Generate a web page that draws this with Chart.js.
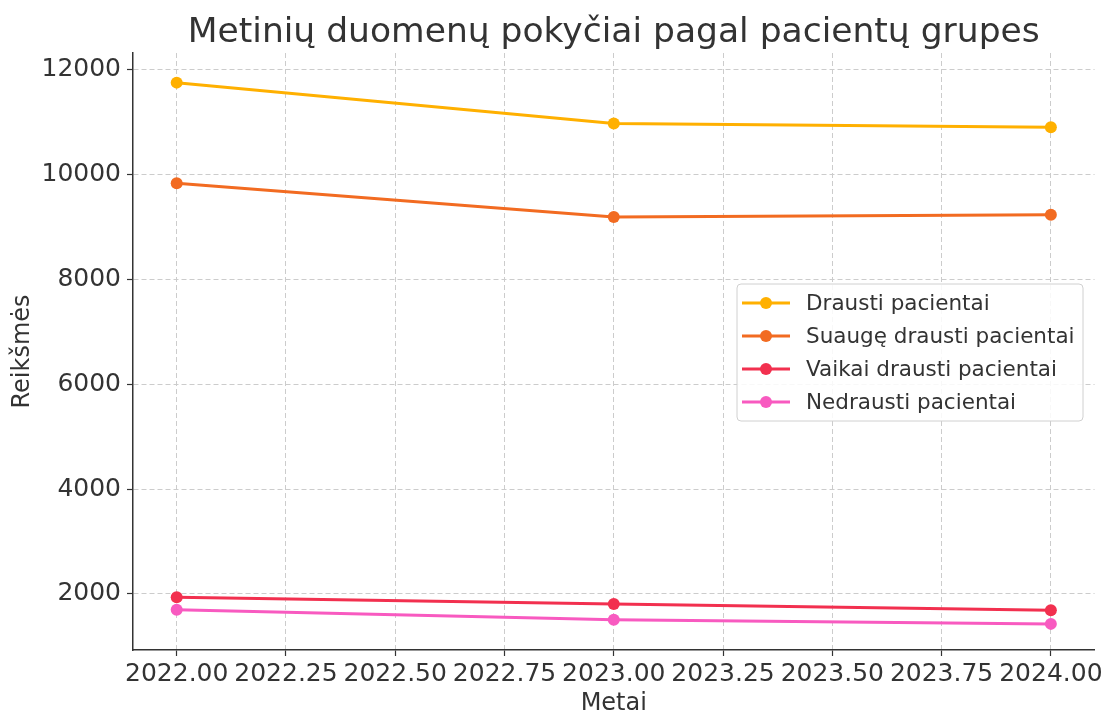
<!DOCTYPE html>
<html>
<head>
<meta charset="utf-8">
<script src="https://cdn.jsdelivr.net/npm/chart.js@4"></script>
<style>
  html, body { margin: 0; padding: 0; background: #fff; }
  #wrap { width: 1106px; height: 715px; }
</style>
</head>
<body>
<div id="wrap"><canvas id="lineChart" width="1106" height="715"></canvas></div>
<script>
const years = [2022, 2023, 2024];
const drausti = [11750, 10970, 10900];
const suauge = [9830, 9190, 9230];
const vaikai = [1940, 1810, 1690];
const nedrausti = [1700, 1510, 1430];
const xTicks = [2022, 2022.25, 2022.5, 2022.75, 2023, 2023.25, 2023.5, 2023.75, 2024];
const yTicks = [2000, 4000, 6000, 8000, 10000, 12000];
const chartTitle = 'Metinių duomenų pokyčiai pagal pacientų grupes';

const textColor = '#333333';
const gridColor = '#cccccc';
const font = 'DejaVu Sans';

const series = [
    { label: 'Drausti pacientai', values: drausti, color: '#ffb000' },
    { label: 'Suaugę drausti pacientai', values: suauge, color: '#f26b21' },
    { label: 'Vaikai drausti pacientai', values: vaikai, color: '#f2304f' },
    { label: 'Nedrausti pacientai', values: nedrausti, color: '#f85ac0' }
];

// title centred over the plot area and legend inside it, like the original
const decorations = {
    id: 'decorations',
    afterDraw(chart) {
        const ctx = chart.ctx;
        const area = chart.chartArea;
        ctx.save();
        ctx.fillStyle = textColor;
        ctx.font = '34.5px ' + font;
        ctx.textAlign = 'center';
        ctx.textBaseline = 'alphabetic';
        ctx.fillText(chartTitle, (area.left + area.right) / 2, 42);

        const x = 737, y = 284, w = 346, h = 137;
        ctx.beginPath();
        ctx.roundRect(x, y, w, h, 4);
        ctx.fillStyle = 'rgba(255,255,255,0.85)';
        ctx.fill();
        ctx.strokeStyle = '#d0d0d0';
        ctx.lineWidth = 1;
        ctx.stroke();
        ctx.font = '21.5px ' + font;
        ctx.textAlign = 'left';
        ctx.textBaseline = 'middle';
        chart.data.datasets.forEach((ds, i) => {
            const cy = y + 19 + i * 33;
            ctx.strokeStyle = ds.borderColor;
            ctx.lineWidth = 3;
            ctx.beginPath();
            ctx.moveTo(x + 5, cy);
            ctx.lineTo(x + 53, cy);
            ctx.stroke();
            ctx.fillStyle = ds.borderColor;
            ctx.beginPath();
            ctx.arc(x + 29, cy, 6, 0, Math.PI * 2);
            ctx.fill();
            ctx.fillStyle = textColor;
            ctx.fillText(ds.label, x + 69, cy + 1);
        });
        ctx.restore();
    }
};

new Chart(document.getElementById('lineChart').getContext('2d'), {
    type: 'line',
    data: {
        datasets: series.map(s => ({
            label: s.label,
            data: years.map((yr, i) => ({ x: yr, y: s.values[i] })),
            borderColor: s.color,
            backgroundColor: s.color,
            borderWidth: 3,
            pointRadius: 6,
            pointHoverRadius: 6,
            pointBorderWidth: 0,
            tension: 0
        }))
    },
    options: {
        responsive: false,
        animation: false,
        layout: { padding: { left: 8, right: 10, top: 53, bottom: 0 } },
        plugins: {
            legend: { display: false },
            tooltip: { enabled: false },
            title: { display: false }
        },
        scales: {
            x: {
                type: 'linear',
                min: 2021.9,
                max: 2024.1,
                afterBuildTicks: scale => { scale.ticks = xTicks.map(v => ({ value: v })); },
                afterFit: scale => { scale.height = 65; },
                ticks: {
                    color: textColor,
                    font: { family: font, size: 25 },
                    maxRotation: 0,
                    autoSkip: false,
                    padding: 3,
                    callback: v => Number(v).toFixed(2)
                },
                grid: { color: gridColor, tickColor: '#333', tickLength: 6, tickWidth: 1.2 },
                border: { display: true, color: '#333', width: 1.5, dash: [5, 3] },
                title: {
                    display: true,
                    text: 'Metai',
                    color: textColor,
                    font: { family: font, size: 24 },
                    padding: { top: 0, bottom: -3 }
                }
            },
            y: {
                min: 932,
                max: 12315,
                afterBuildTicks: scale => { scale.ticks = yTicks.map(v => ({ value: v })); },
                afterFit: scale => { scale.width = 125; },
                ticks: {
                    color: textColor,
                    font: { family: font, size: 25 },
                    padding: 6,
                    callback: v => String(v)
                },
                grid: { color: gridColor, tickColor: '#333', tickLength: 6, tickWidth: 1.2 },
                border: { display: true, color: '#333', width: 1.5, dash: [5, 3] },
                title: {
                    display: true,
                    text: 'Reikšmės',
                    color: textColor,
                    font: { family: font, size: 24 },
                    padding: { top: 0, bottom: 4 }
                }
            }
        }
    },
    plugins: [decorations]
});
</script>
</body>
</html>
